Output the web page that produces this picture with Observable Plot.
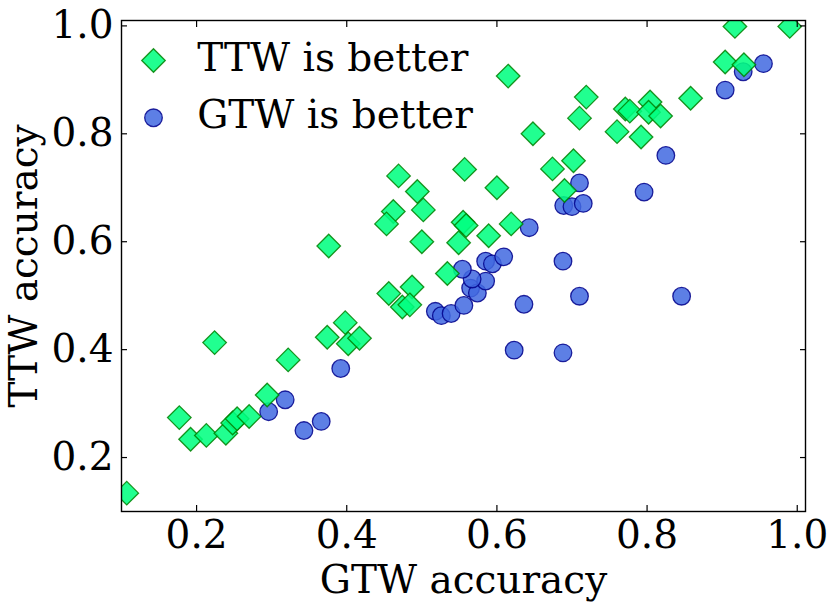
<!DOCTYPE html>
<html>
<head>
<meta charset="utf-8">
<script src="https://cdn.jsdelivr.net/npm/d3@7"></script>
<script src="https://cdn.jsdelivr.net/npm/@observablehq/plot@0.6"></script>
<style>
  html, body { margin: 0; padding: 0; background: #fff; }
</style>
</head>
<body>
<div id="chart"></div>
<script>
// TTW is better (diamonds): GTW accuracy (x), TTW accuracy (y)
const ttwGtw = [0.107,0.177,0.192,0.213,0.224,0.239,0.248,0.254,0.270,0.294,0.322,0.374,0.398,0.402,0.417,0.376,
  0.456,0.487,0.474,0.484,0.469,0.494,0.462,0.453,0.502,0.500,0.557,0.555,0.559,0.549,0.589,0.619,0.534,0.600,
  0.615,0.648,0.674,0.702,0.690,0.710,0.719,0.760,0.792,0.771,0.777,0.804,0.802,0.818,0.858,0.904,0.929,0.917,0.990];
const ttwTtw = [0.134,0.274,0.234,0.241,0.413,0.245,0.264,0.272,0.276,0.316,0.381,0.423,0.450,0.411,0.421,0.592,
  0.504,0.516,0.479,0.483,0.722,0.693,0.656,0.633,0.659,0.600,0.734,0.636,0.630,0.598,0.611,0.633,0.541,0.700,
  0.907,0.800,0.735,0.750,0.695,0.829,0.868,0.804,0.794,0.846,0.842,0.859,0.840,0.833,0.866,0.933,0.928,0.999,0.999];

// GTW is better (circles)
const gtwGtw = [0.296,0.318,0.343,0.366,0.392,0.518,0.526,0.539,0.556,0.565,0.574,0.585,0.567,0.554,0.585,0.594,
  0.609,0.643,0.636,0.623,0.688,0.688,0.710,0.846,0.689,0.700,0.715,0.710,0.796,0.825,0.904,0.928,0.955];
const gtwTtw = [0.285,0.307,0.250,0.267,0.365,0.471,0.463,0.467,0.482,0.514,0.505,0.527,0.531,0.549,0.564,0.559,
  0.572,0.626,0.484,0.399,0.394,0.564,0.499,0.499,0.667,0.665,0.671,0.709,0.692,0.760,0.881,0.915,0.930];

const xTicks = [0.2, 0.4, 0.6, 0.8, 1.0];
const yTicks = [0.2, 0.4, 0.6, 0.8, 1.0];
const xDomain = [0.1, 1.011];
const yDomain = [0.1, 1.01];
const legendLabels = ["TTW is better", "GTW is better"];
const xLabel = "GTW accuracy";
const yLabel = "TTW accuracy";

const ttw = ttwGtw.map((x, i) => ({x, y: ttwTtw[i]}));
const gtw = gtwGtw.map((x, i) => ({x, y: gtwTtw[i]}));

const FS = 39;
const fmt = d3.format(".1f");
const diamondStyle = {symbol: "diamond2", r: 10.6, fill: "#00ff7f", fillOpacity: 0.87, stroke: "green", strokeOpacity: 0.85, strokeWidth: 1.3};
const circleStyle = {symbol: "circle", r: 8.8, fill: "royalblue", fillOpacity: 0.85, stroke: "#00008b", strokeOpacity: 0.85, strokeWidth: 1.3};
const textStyle = {fontSize: FS, fill: "#000", lineAnchor: "middle"};

const chart = Plot.plot({
  width: 830,
  height: 603,
  marginLeft: 121,
  marginRight: 25,
  marginTop: 20,
  marginBottom: 92,
  style: {fontFamily: "'DejaVu Serif', serif", background: "#fff", color: "#000"},
  x: {domain: xDomain},
  y: {domain: yDomain},
  marks: [
    Plot.dot(gtw, {x: "x", y: "y", ...circleStyle, clip: true}),
    Plot.dot(ttw, {x: "x", y: "y", ...diamondStyle, clip: true}),
    // tick labels
    Plot.axisX({anchor: "bottom", ticks: xTicks, tickSize: 0, tickPadding: 9, tickFormat: fmt, fontSize: FS, label: null}),
    Plot.axisY({anchor: "left", ticks: yTicks, tickSize: 0, tickPadding: 8, tickFormat: fmt, fontSize: FS, label: null}),
    // inward ticks on all four sides
    Plot.axisX({anchor: "bottom", ticks: xTicks, tickSize: -6, tickFormat: () => "", label: null, strokeWidth: 1.2}),
    Plot.axisX({anchor: "top", ticks: xTicks, tickSize: -6, tickFormat: () => "", label: null, strokeWidth: 1.2}),
    Plot.axisY({anchor: "left", ticks: yTicks, tickSize: -6, tickFormat: () => "", label: null, strokeWidth: 1.2}),
    Plot.axisY({anchor: "right", ticks: yTicks, tickSize: -6, tickFormat: () => "", label: null, strokeWidth: 1.2}),
    Plot.frame({stroke: "#000", strokeWidth: 1.4}),
    // axis labels
    Plot.text([xLabel], {frameAnchor: "bottom", dy: 69, textAnchor: "middle", ...textStyle}),
    Plot.text([yLabel], {frameAnchor: "left", dx: -97, rotate: -90, textAnchor: "middle", ...textStyle}),
    // legend
    Plot.dot([legendLabels[0]], {frameAnchor: "top-left", dx: 32, dy: 40, ...diamondStyle}),
    Plot.dot([legendLabels[1]], {frameAnchor: "top-left", dx: 32, dy: 97.3, ...circleStyle}),
    Plot.text([legendLabels[0]], {frameAnchor: "top-left", dx: 75.7, dy: 38.5, textAnchor: "start", ...textStyle}),
    Plot.text([legendLabels[1]], {frameAnchor: "top-left", dx: 75.7, dy: 95.5, textAnchor: "start", ...textStyle})
  ]
});
document.getElementById("chart").appendChild(chart);
</script>
</body>
</html>
